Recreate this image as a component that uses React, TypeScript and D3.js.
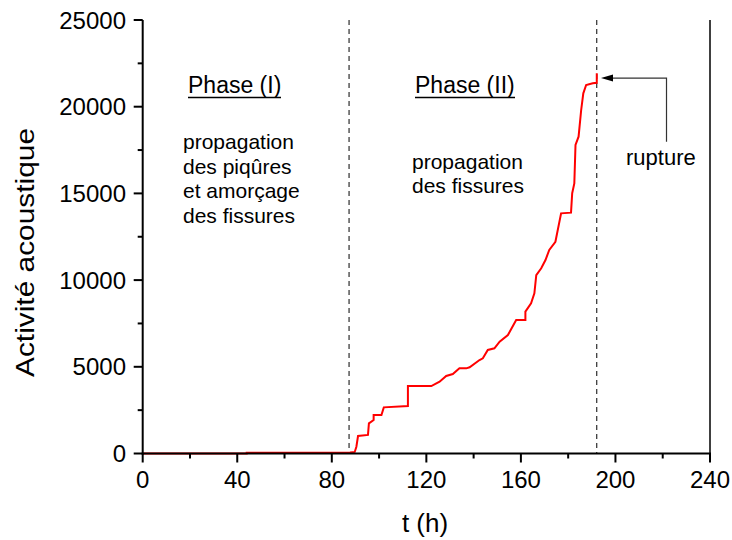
import React from "react";
import * as d3 from "d3";

const times = [0, 44, 44, 87.7, 89.7, 90.4, 91.1, 95.3, 95.7, 97.7, 97.7, 101, 102, 112.2, 112.2, 122.1, 125.6, 128.4, 131.2, 134, 136.9, 138.3, 142.5, 143.9, 146, 148.8, 151, 154.5, 158, 161.9, 161.9, 164.3, 165.7, 166.5, 168.6, 170.4, 172, 174.6, 177, 181.2, 181.7, 182.6, 183.1, 184.4, 185.5, 186.4, 187.6, 190.4, 192.1, 192.1];
const values = [0, 0, 40, 60, 90, 390, 1010, 1070, 1740, 1930, 2220, 2220, 2660, 2740, 3890, 3890, 4140, 4470, 4580, 4910, 4910, 4970, 5390, 5490, 5970, 6070, 6450, 6830, 7700, 7700, 8180, 8660, 9240, 10290, 10680, 11160, 11740, 12210, 13850, 13890, 15010, 15580, 17790, 18270, 19810, 20770, 21250, 21350, 21380, 21930];
const xMajorTicks = [0, 40, 80, 120, 160, 200, 240];
const yMajorTicks = [0, 5000, 10000, 15000, 20000, 25000];
const phaseLines = [87.3, 192.1];
const phase1Lines = ["propagation", "des piqûres", "et amorçage", "des fissures"];
const phase2Lines = ["propagation", "des fissures"];

const W = 732, H = 540;
const FONT = "'Liberation Sans', Arial, sans-serif";

export default function App() {
  const x = d3.scaleLinear().domain([0, 240]).range([142.7, 710]);
  const y = d3.scaleLinear().domain([0, 25000]).range([453.5, 20]);
  const pts: [number, number][] = times.map((t, i) => [t, values[i]]);
  const line = d3.line<[number, number]>().x(d => x(d[0])).y(d => y(d[1]));
  const xMinor = d3.range(20, 240, 40);
  const yMinor = d3.range(2500, 25000, 5000);
  const x0 = x(0), y0 = y(0), xR = x(240), yT = y(25000);

  const arrowTipX = x(193.9), arrowY = y(21650), arrowCornerX = x(221.6), arrowBottomY = y(17980);

  return (
    <svg width={W} height={H} style={{ position: "absolute", left: 0, top: 0, background: "#fff" }} fontFamily={FONT}>
      <rect width={W} height={H} fill="#fff" />
      {/* phase dashed lines */}
      {phaseLines.map((t, i) => (
        <line key={i} x1={x(t)} x2={x(t)} y1={yT} y2={y0} stroke="#000" strokeWidth={1} strokeDasharray="5,4" />
      ))}
      {/* data */}
      <path d={line(pts) || ""} fill="none" stroke="#ff0000" strokeWidth={2} />
      {/* axes */}
      <line x1={x0} x2={x0} y1={yT} y2={y0 + 1} stroke="#000" strokeWidth={2} />
      <line x1={x0 - 1} x2={xR + 1} y1={y0} y2={y0} stroke="#000" strokeWidth={2} />
      <line x1={xR} x2={xR} y1={yT} y2={y0} stroke="#000" strokeWidth={1.5} />
      {xMajorTicks.map(t => (
        <g key={"xt" + t}>
          <line x1={x(t)} x2={x(t)} y1={y0} y2={y0 + 9} stroke="#000" strokeWidth={2} />
          <text x={x(t)} y={488} fontSize={24} textAnchor="middle" fill="#000">{t}</text>
        </g>
      ))}
      {xMinor.map(t => (
        <line key={"xm" + t} x1={x(t)} x2={x(t)} y1={y0} y2={y0 + 5} stroke="#000" strokeWidth={2} />
      ))}
      {yMajorTicks.map(v => (
        <g key={"yt" + v}>
          <line x1={x0 - 9} x2={x0} y1={y(v)} y2={y(v)} stroke="#000" strokeWidth={2} />
          <text x={126} y={y(v) + 8.5} fontSize={24} textAnchor="end" fill="#000">{v}</text>
        </g>
      ))}
      {yMinor.map(v => (
        <line key={"ym" + v} x1={x0 - 5} x2={x0} y1={y(v)} y2={y(v)} stroke="#000" strokeWidth={2} />
      ))}
      {/* axis titles */}
      <text x={425} y={532} fontSize={26} textAnchor="middle" fill="#000">t (h)</text>
      <text transform={`translate(34,252.5) rotate(-90)`} fontSize={25} textAnchor="middle" fill="#000"
        textLength={249} lengthAdjust="spacingAndGlyphs">Activité acoustique</text>
      {/* annotations */}
      <text x={188} y={93.3} fontSize={23} fill="#000">Phase (I)</text>
      <line x1={188} x2={281} y1={97.5} y2={97.5} stroke="#000" strokeWidth={1.6} />
      {phase1Lines.map((s, i) => (
        <text key={"p1" + i} x={183} y={149 + i * 24.7} fontSize={21} fill="#000">{s}</text>
      ))}
      <text x={415} y={93.3} fontSize={23} fill="#000">Phase (II)</text>
      <line x1={415} x2={515} y1={97.5} y2={97.5} stroke="#000" strokeWidth={1.6} />
      {phase2Lines.map((s, i) => (
        <text key={"p2" + i} x={412} y={168.5 + i * 24.7} fontSize={21} fill="#000">{s}</text>
      ))}
      <text x={626} y={164.5} fontSize={22} fill="#000">rupture</text>
      {/* arrow */}
      <polyline points={`${arrowCornerX},${arrowBottomY} ${arrowCornerX},${arrowY} ${arrowTipX + 10},${arrowY}`}
        fill="none" stroke="#333" strokeWidth={1.2} />
      <path d={`M${arrowTipX},${arrowY} L${arrowTipX + 12},${arrowY - 3.5} L${arrowTipX + 12},${arrowY + 3.5} Z`} fill="#000" />
    </svg>
  );
}
